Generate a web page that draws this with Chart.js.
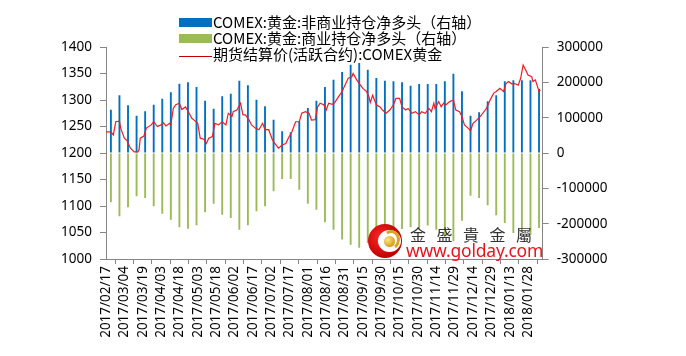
<!DOCTYPE html>
<html>
<head>
<meta charset="utf-8">
<script src="https://cdn.jsdelivr.net/npm/chart.js@4.4.1/dist/chart.umd.min.js"></script>
<style>
  html, body { margin: 0; padding: 0; background: #fff; }
  #wrap { position: relative; width: 686px; height: 356px; overflow: hidden; }
  canvas { position: absolute; left: 0; top: 0; }
  .lg { position: absolute; left: 179px; height: 16px; font: 15px "Noto Sans CJK SC", sans-serif; color: #000; white-space: nowrap; line-height: 16px; }
  .lg .sw { position: absolute; left: 0; width: 33px; }
  .lg .tx { position: absolute; left: 34px; top: 0; }
  .wm1 { position: absolute; left: 410px; top: 224px; font: 16px "Noto Sans CJK TC", sans-serif; color: #333; letter-spacing: 10.5px; white-space: nowrap; line-height: 20px; }
  .wm2 { position: absolute; left: 406px; top: 240px; font: 17.5px "Noto Sans", sans-serif; color: #e8141c; white-space: nowrap; line-height: 20px; letter-spacing: -0.2px; }
  .logo { position: absolute; left: 368px; top: 224px; width: 34px; height: 34px; border-radius: 50%; background: radial-gradient(circle at 40% 40%, #ff2a2a, #c00000 70%, #900000); }
  .logo .in { position: absolute; left: 10px; top: 6px; width: 23px; height: 22px; border-radius: 50%; background: #fff; }
  .logo .ball { position: absolute; left: 16px; top: 12px; width: 11px; height: 11px; border-radius: 50%; background: radial-gradient(circle at 35% 35%, #ffe68a, #d4a017 70%, #9c7400); }
  .logo .arc { position: absolute; left: 14px; top: 6px; width: 18px; height: 20px; border-radius: 50%; border-top: 3px solid #d9a520; border-right: 3px solid #d9a520; border-left: 3px solid transparent; border-bottom: 3px solid transparent; box-sizing: border-box; transform: rotate(10deg); }
</style>
</head>
<body>
<div id="wrap">
  <canvas id="c" width="686" height="356"></canvas>
  <div id="legend"></div>
  <div class="logo"><div class="in"></div><div class="arc"></div><div class="ball"></div></div>
  <div class="wm1">金盛貴金屬</div>
  <div class="wm2">www.golday.com</div>
</div>
<script>
// ---------------- DATA ----------------
const seriesNames = ['COMEX:黄金:非商业持仓净多头（右轴）', 'COMEX:黄金:商业持仓净多头（右轴）', '期货结算价(活跃合约):COMEX黄金'];
const startDate = '2017/02/17';
const tickLabels = ['2017/02/17','2017/03/04','2017/03/19','2017/04/03','2017/04/18','2017/05/03','2017/05/18','2017/06/02','2017/06/17','2017/07/02','2017/07/17','2017/08/01','2017/08/16','2017/08/31','2017/09/15','2017/09/30','2017/10/15','2017/10/30','2017/11/14','2017/11/29','2017/12/14','2017/12/29','2018/01/13','2018/01/28'];

// weekly CFTC report dates
const reportDates = ['2017/02/21','2017/02/28','2017/03/07','2017/03/14','2017/03/21','2017/03/28','2017/04/04','2017/04/11','2017/04/18','2017/04/25','2017/05/02','2017/05/09','2017/05/16','2017/05/23','2017/05/30','2017/06/06','2017/06/13','2017/06/20','2017/06/27','2017/07/04','2017/07/11','2017/07/18','2017/07/25','2017/08/01','2017/08/08','2017/08/15','2017/08/22','2017/08/29','2017/09/05','2017/09/12','2017/09/19','2017/09/26','2017/10/03','2017/10/10','2017/10/17','2017/10/24','2017/10/31','2017/11/07','2017/11/14','2017/11/21','2017/11/28','2017/12/05','2017/12/12','2017/12/19','2017/12/26','2018/01/02','2018/01/09','2018/01/16','2018/01/23','2018/01/30','2018/02/06'];
const nonCommercialNet = [122600,163200,134900,105700,117900,136800,153800,171700,196200,200000,186800,148100,125500,160400,167900,204700,191500,150900,132100,94300,61300,58500,89600,127400,148100,186800,207500,229200,250000,254700,235800,212300,204700,202800,200000,190600,195300,195300,195300,202800,224500,174500,105700,115100,146200,163200,202800,205700,205700,205700,181100];
const commercialNet = [-139600,-179200,-153800,-122600,-127400,-150900,-171700,-188700,-210400,-214200,-204700,-167900,-143400,-174500,-184000,-217000,-204700,-165100,-150900,-108500,-73600,-73600,-103800,-143400,-160400,-196000,-217000,-245000,-260000,-268000,-255000,-230000,-222000,-220000,-215000,-210000,-215000,-205000,-217000,-235800,-250000,-191500,-120800,-127400,-148100,-176400,-198100,-226400,-221700,-231100,-212300];

// settlement price: days after 2017/02/17, and price
const priceDay = [0,4,6,8,11,12,15,17,20,23,26,27,28,31,33,37,39,42,45,47,49,52,53,55,57,60,62,65,68,70,72,75,77,80,82,84,87,89,92,95,98,100,103,104,107,110,112,114,117,119,122,125,128,130,133,136,138,141,144,147,149,152,155,158,160,163,166,168,171,173,175,178,180,182,185,187,190,193,196,198,201,202,205,207,210,213,215,216,218,221,224,226,229,232,235,237,240,242,245,247,250,253,256,258,261,264,266,268,269,272,274,276,278,281,284,286,289,291,293,296,298,300,303,306,308,311,314,317,319,322,325,327,329,332,334,337,339,341,343,345,348,349,351,354,355];
const price = [1240,1240,1234,1259,1260,1247,1228,1224,1209,1202,1202,1206,1228,1232,1247,1253,1259,1250,1253,1257,1251,1256,1253,1284,1291,1294,1282,1287,1275,1266,1262,1256,1228,1226,1218,1228,1231,1256,1253,1259,1253,1275,1269,1278,1281,1294,1272,1272,1262,1253,1247,1244,1256,1244,1244,1225,1218,1209,1215,1218,1228,1240,1259,1259,1275,1278,1275,1262,1263,1287,1294,1291,1281,1294,1292,1295,1306,1316,1331,1341,1344,1350,1338,1331,1322,1316,1306,1295,1309,1291,1287,1281,1275,1281,1291,1303,1303,1287,1281,1284,1275,1278,1272,1278,1275,1284,1278,1294,1284,1297,1287,1294,1291,1297,1300,1281,1278,1269,1253,1247,1242,1256,1262,1269,1275,1284,1300,1313,1316,1322,1316,1331,1335,1330,1331,1328,1341,1366,1357,1347,1344,1335,1338,1316,1319];

const axisEndDay = 357;

// ---------------- HELPERS ----------------
function dayOf(s) {
  const p = s.split('/').map(Number);
  const q = startDate.split('/').map(Number);
  return Math.round((Date.UTC(p[0], p[1]-1, p[2]) - Date.UTC(q[0], q[1]-1, q[2])) / 86400000);
}
const colors = ['#0070C0', '#9BBB59', '#EE1C25'];

// legend (HTML)
const lg = document.getElementById('legend');
const rowTops = [14, 30, 46];
seriesNames.forEach((n, i) => {
  const d = document.createElement('div');
  d.className = 'lg';
  d.style.top = rowTops[i] + 'px';
  const sw = document.createElement('div');
  sw.className = 'sw';
  if (i < 2) { sw.style.top = '4px'; sw.style.height = '9px'; sw.style.background = colors[i]; }
  else { sw.style.top = '10px'; sw.style.height = '1px'; sw.style.background = '#c00000'; }
  const tx = document.createElement('div');
  tx.className = 'tx';
  tx.textContent = n;
  d.appendChild(sw); d.appendChild(tx);
  lg.appendChild(d);
});

Chart.defaults.font.family = "'Noto Sans', sans-serif";
Chart.defaults.font.size = 13.5;
Chart.defaults.color = '#000';

const axisColor = '#868686';
const barStyle = { borderWidth: 0, grouped: false, barPercentage: 0.22, categoryPercentage: 1, maxBarThickness: 2 };

new Chart(document.getElementById('c'), {
  type: 'bar',
  data: {
    datasets: [
      {
        type: 'line', label: seriesNames[2], yAxisID: 'y', order: 0,
        data: priceDay.map((d, i) => ({ x: d, y: price[i] })),
        borderColor: colors[2], borderWidth: 1.2, pointRadius: 0, tension: 0, fill: false
      },
      Object.assign({
        label: seriesNames[0], yAxisID: 'y1', order: 1,
        data: reportDates.map((d, i) => ({ x: dayOf(d), y: nonCommercialNet[i] })),
        backgroundColor: colors[0]
      }, barStyle),
      Object.assign({
        label: seriesNames[1], yAxisID: 'y1', order: 2,
        data: reportDates.map((d, i) => ({ x: dayOf(d), y: commercialNet[i] })),
        backgroundColor: colors[1]
      }, barStyle)
    ]
  },
  options: {
    responsive: false,
    animation: false,
    datasets: { bar: { barPercentage: 0.22, categoryPercentage: 1, maxBarThickness: 2 } },
    layout: { padding: { top: 47, left: 0, right: 0, bottom: 0 } },
    plugins: { legend: { display: false }, tooltip: { enabled: false } },
    scales: {
      x: {
        type: 'linear', min: 0, max: axisEndDay, offset: false,
        grid: { display: true, drawOnChartArea: false, drawTicks: true, tickLength: 5, color: axisColor },
        border: { display: true, color: axisColor },
        afterBuildTicks: s => { s.ticks = tickLabels.map(l => ({ value: dayOf(l) })); },
        ticks: {
          autoSkip: false, minRotation: 90, maxRotation: 90, padding: 2,
          callback: (v, i) => tickLabels[i]
        },
        afterFit: s => { s.height = 97; }
      },
      y: {
        position: 'left', min: 1000, max: 1400,
        grid: { display: true, drawOnChartArea: false, drawTicks: true, tickLength: 6, color: axisColor },
        border: { display: true, color: axisColor },
        ticks: { stepSize: 50, padding: 8, callback: v => String(v) },
        afterFit: s => { s.width = 106; }
      },
      y1: {
        position: 'right', min: -300000, max: 300000,
        grid: { display: true, drawOnChartArea: false, drawTicks: true, tickLength: 6, color: axisColor },
        border: { display: true, color: axisColor },
        ticks: { stepSize: 100000, padding: 8, callback: v => String(v) },
        afterFit: s => { s.width = 143.3; }
      }
    }
  }
});
</script>
</body>
</html>
